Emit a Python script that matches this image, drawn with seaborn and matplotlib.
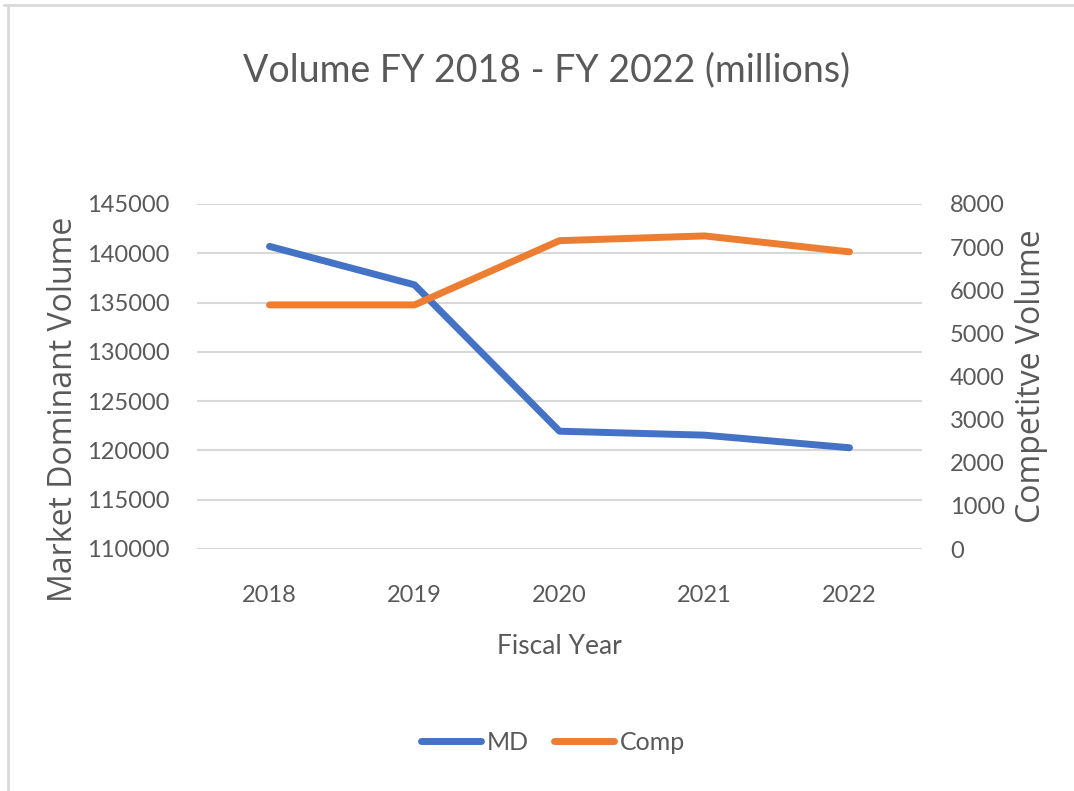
import matplotlib
matplotlib.use("Agg")
import matplotlib.pyplot as plt
import seaborn as sns
import pandas as pd
from matplotlib.lines import Line2D

years = ["2018", "2019", "2020", "2021", "2022"]
md_volume = [140700, 136800, 121950, 121550, 120270]
comp_volume = [5660, 5660, 7150, 7260, 6890]
left_ticks = [110000, 115000, 120000, 125000, 130000, 135000, 140000, 145000]
right_ticks = [0, 1000, 2000, 3000, 4000, 5000, 6000, 7000, 8000]

sns.set_theme(style="white")
plt.rcParams['font.family'] = ['Lato', 'DejaVu Sans']

TXT = "#595959"
BLUE = "#4472C4"
ORANGE = "#ED7D31"
GRID = "#D9D9D9"

df = pd.DataFrame({"Year": years, "MD": md_volume, "Comp": comp_volume})
df["x"] = range(len(years))

fig = plt.figure(figsize=(10.74, 7.91), dpi=100)
ax = fig.add_axes([197/1074, 1-549/791, (922-197)/1074, (549-204)/791])
ax2 = ax.twinx()

for a in (ax, ax2):
    for s in a.spines.values():
        s.set_visible(False)
    a.tick_params(length=0, colors=TXT, labelsize=17)

ax.set_ylim(110000, 145000)
ax.set_yticks(left_ticks)
ax.set_yticklabels([str(t) for t in left_ticks])
ax2.set_ylim(0, 8000)
ax2.set_yticks(right_ticks)
ax2.set_yticklabels([str(t) for t in right_ticks])
for t in left_ticks:
    ax.axhline(t, color=GRID, lw=1.5, zorder=0)
ax.set_xticks(range(len(years)))
ax.set_xticklabels(years)
ax.tick_params(axis='x', pad=26)
ax.tick_params(axis='y', pad=20)
ax2.tick_params(axis='y', pad=20)

sns.lineplot(data=df, x="x", y="MD", ax=ax, color=BLUE, lw=5, solid_capstyle='round', solid_joinstyle='round', legend=False)
sns.lineplot(data=df, x="x", y="Comp", ax=ax2, color=ORANGE, lw=5, solid_capstyle='round', solid_joinstyle='round', legend=False)
ax.set_xlim(-0.5, 4.5)

ax.set_xlabel("Fiscal Year", fontsize=19, color=TXT, labelpad=20)
ax.set_ylabel("")
ax2.set_ylabel("")
fig.text(64/1074, 1-409/791, "Market Dominant Volume", rotation=90, ha="center", va="center",
         fontsize=23, color=TXT, family=['Open Sans', 'DejaVu Sans'])
fig.text(1031/1074, 1-376/791, "Competitve Volume", rotation=90, ha="center", va="center",
         fontsize=23, color=TXT, family=['Open Sans', 'DejaVu Sans'])

fig.text(547/1074, 1-70/791, "Volume FY 2018 - FY 2022 (millions)", ha="center", va="center",
         fontsize=27, color=TXT)

handles = [Line2D([0], [0], color=BLUE, lw=5, solid_capstyle='round'),
           Line2D([0], [0], color=ORANGE, lw=5, solid_capstyle='round')]
fig.legend(handles, ["MD", "Comp"], loc="center", bbox_to_anchor=(553/1074, 1-742/791),
           ncol=2, frameon=False, fontsize=18, labelcolor=TXT, handlelength=2.4,
           handletextpad=0.25, columnspacing=1.0)

fig.add_artist(Line2D([4/1074, 1], [1-5/791, 1-5/791], color=GRID, lw=2, transform=fig.transFigure))
fig.add_artist(Line2D([8/1074, 8/1074], [0, 1-5/791], color=GRID, lw=2, transform=fig.transFigure))

fig.savefig("out.png", dpi=100, facecolor="white")
